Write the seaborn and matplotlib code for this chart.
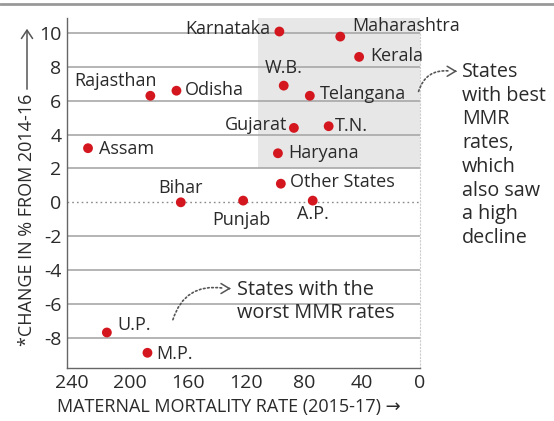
import matplotlib
matplotlib.use("Agg")
import matplotlib.pyplot as plt
import seaborn as sns
import pandas as pd

states = ["Karnataka", "Maharashtra", "Kerala", "W.B.", "Telangana", "Gujarat", "T.N.",
          "Haryana", "Other States", "A.P.", "Punjab", "Bihar", "Rajasthan", "Odisha",
          "Assam", "U.P.", "M.P."]
mmr = [97, 55, 42, 94, 76, 87, 63, 98, 96, 74, 122, 165, 186, 168, 229, 216, 188]
change = [10.1, 9.8, 8.6, 6.9, 6.3, 4.4, 4.5, 2.9, 1.1, 0.1, 0.1, 0.0, 6.3, 6.6, 3.2, -7.7, -8.9]
y_ticks = [-8, -6, -4, -2, 0, 2, 4, 6, 8, 10]
x_ticks = [240, 200, 160, 120, 80, 40, 0]

# label placement (offset pixels, alignment) -- styling only
label_pos = {
    "Karnataka": (-9, 3, "right"), "Maharashtra": (12, 11, "left"), "Kerala": (11, 1, "left"),
    "W.B.": (-19, 18, "left"), "Telangana": (10, 2, "left"), "Gujarat": (-7, 3, "right"),
    "T.N.": (6, 0, "left"), "Haryana": (10, 0, "left"), "Other States": (9, 2, "left"),
    "A.P.": (0, -13, "center"), "Punjab": (-2, -19, "center"), "Bihar": (0, 14, "center"),
    "Rajasthan": (6, 15, "right"), "Odisha": (8, 1, "left"), "Assam": (11, -1, "left"),
    "U.P.": (11, 7, "left"), "M.P.": (9, -1, "left"),
}

df = pd.DataFrame({"state": states, "mmr": mmr, "change": change})

sns.set_theme(style="white")
plt.rcParams["font.family"] = ["Open Sans", "DejaVu Sans"]
TXT = "#2a2a2a"
RED = "#d4161f"
W, H = 554, 421

fig = plt.figure(figsize=(W/100, H/100), dpi=100)
ax = fig.add_axes([67/W, 1-368/H, (420-67)/W, (368-18)/H])

ymin, ymax = -9.8, 10.9
ax.set_xlim(243.5, 0)
ax.set_ylim(ymin, ymax)

ax.axvspan(112, 0, ymin=(2-ymin)/(ymax-ymin), ymax=1, color="#e7e7e7", lw=0, zorder=0)

for t in y_ticks:
    if t == 0:
        ax.axhline(t, color="#8a8a8a", lw=1.0, ls=(0, (1.2, 2.2)), zorder=1)
    else:
        ax.axhline(t, color="#a8a8a8", lw=1.2, zorder=1)

sns.scatterplot(data=df, x="mmr", y="change", ax=ax, color=RED, s=50,
                edgecolor="none", zorder=3, legend=False)

for s, x, y in zip(states, mmr, change):
    dx, dy, ha = label_pos[s]
    ax.annotate(s, (x, y), xytext=(dx, dy), textcoords="offset pixels",
                ha=ha, va="center", fontsize=13, color=TXT, zorder=4)

ax.set_xticks(x_ticks)
ax.set_yticks(y_ticks)
ax.set_xticklabels([str(v) for v in x_ticks])
ax.set_yticklabels([str(v) for v in y_ticks])
ax.tick_params(axis="both", labelsize=14, colors=TXT, length=0, pad=4)
ax.set_xlabel("")
ax.set_ylabel("")

ax.spines["top"].set_visible(False)
ax.spines["right"].set_color("#cccccc")
ax.spines["right"].set_linestyle((0, (1, 2)))
ax.spines["right"].set_linewidth(0.8)
for side in ["left", "bottom"]:
    ax.spines[side].set_color("#666666")
    ax.spines[side].set_linewidth(1.0)

fig.text(57/W, 1-407/H, "MATERNAL MORTALITY RATE (2015-17) \u2192", ha="left", va="center",
         fontsize=13, color=TXT)
fig.text(27/W, 1-346/H, "*CHANGE IN % FROM 2014-16", rotation=90, ha="center",
         va="bottom", fontsize=13, color=TXT)
fig.add_artist(matplotlib.patches.FancyArrowPatch(
    (27/W, 1-92/H), (27/W, 1-26/H), transform=fig.transFigure,
    arrowstyle="->,head_length=6,head_width=4", color="#555555", lw=1.1, mutation_scale=1))

# annotations
ax.annotate("", xy=(134, -5.1), xytext=(171, -7.1),
            arrowprops=dict(arrowstyle="-", ls=(0, (1, 1.5)), color="#555555", lw=1.2,
                            connectionstyle="arc3,rad=-0.45"))
ax.annotate("", xy=(130.5, -5.1), xytext=(134, -5.1),
            arrowprops=dict(arrowstyle="->,head_length=0.5,head_width=0.3", color="#555555", lw=1.1))
ax.text(126, -5.85, "States with the\nworst MMR rates", ha="left", va="center", fontsize=14.3,
        color=TXT, linespacing=1.2)

ax.annotate("", xy=(-22, 7.75), xytext=(1.5, 6.4), annotation_clip=False,
            arrowprops=dict(arrowstyle="-", ls=(0, (1, 1.5)), color="#555555", lw=1.2,
                            connectionstyle="arc3,rad=-0.45"))
ax.annotate("", xy=(-25.5, 7.75), xytext=(-22, 7.75), annotation_clip=False,
            arrowprops=dict(arrowstyle="->,head_length=0.5,head_width=0.3", color="#555555", lw=1.1))
fig.text(462/W, 1-62/H, "States\nwith best\nMMR\nrates,\nwhich\nalso saw\na high\ndecline",
         ha="left", va="top", fontsize=14.2, color=TXT, linespacing=1.25)

fig.add_artist(plt.Line2D([0, 1], [1-4/H, 1-4/H], color="#999999", lw=2))

fig.savefig("out.png", dpi=100)
